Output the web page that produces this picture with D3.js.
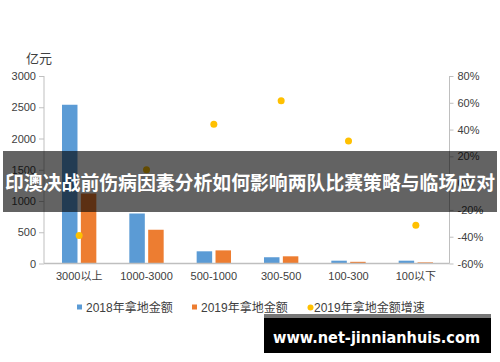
<!DOCTYPE html>
<html>
<head>
<meta charset="utf-8">
<script src="https://cdn.jsdelivr.net/npm/d3@7"></script>
<style>
  body { margin: 0; background: #fff; }
  svg { display: block; }
</style>
</head>
<body>
<div id="chart"></div>
<script>
// Data
const categories = ["3000以上", "1000-3000", "500-1000", "300-500", "100-300", "100以下"];
const amount2018 = [2540, 800, 195, 100, 45, 45];
const amount2019 = [1120, 540, 210, 115, 27, 18];
const growth2019 = [-39, 10, 44, 61.5, 31.5, -31.5];
const leftTicks = [0, 500, 1000, 1500, 2000, 2500, 3000];
const rightTicks = [-60, -40, -20, 0, 20, 40, 60, 80];
const seriesNames = ["2018年拿地金额", "2019年拿地金额", "2019年拿地金额增速"];
const bannerText = "印澳决战前伤病因素分析如何影响两队比赛策略与临场应对";
const watermarkText = "www.net-jinnianhuis.com";

const colors = ["#5b9bd5", "#ed7d31", "#ffc000"];
const W = 500, H = 362;
const numFont = "'Liberation Sans', Arial, sans-serif";
const cjkFont = "'Liberation Sans', 'Noto Sans CJK SC', sans-serif";

const svg = d3.select("#chart").append("svg")
    .attr("width", W)
    .attr("height", H);

// Scales
const x = d3.scaleBand().domain(categories).range([45.5, 449.5]);
const yLeft = d3.scaleLinear().domain([0, 3000]).range([263.5, 76]);
const yRight = d3.scaleLinear().domain([-60, 80]).range([263.5, 76]);

const bw = x.bandwidth();
const barW = bw * 0.23;
const gap = bw * 0.05;

// Left axis
const leftAxis = svg.append("g")
    .attr("transform", "translate(44,0)")
    .call(d3.axisLeft(yLeft).tickValues(leftTicks).tickSize(5).tickPadding(3)
        .tickFormat(d3.format("d")));
leftAxis.selectAll("text")
    .style("font-family", numFont)
    .style("font-size", "11px")
    .style("fill", "#404040");

// Right axis
const rightAxis = svg.append("g")
    .attr("transform", "translate(449.5,0)")
    .call(d3.axisRight(yRight).tickValues(rightTicks).tickSize(4).tickPadding(4)
        .tickFormat(d => d + "%"));
rightAxis.selectAll("text")
    .style("font-family", numFont)
    .style("font-size", "11px")
    .style("fill", "#404040");

svg.selectAll(".domain").attr("stroke", "#bfbfbf").attr("stroke-width", 1);
svg.selectAll(".tick line").attr("stroke", "#bfbfbf");
// axis lines without end caps
leftAxis.select(".domain").attr("d", `M0,${yLeft(3000)}V${yLeft(0)}`);
rightAxis.select(".domain").attr("d", `M0,${yRight(80)}V${yRight(-60)}`);

// Unit label
svg.append("text")
    .attr("x", 26)
    .attr("y", 63)
    .style("font-family", "'Noto Sans CJK SC', sans-serif")
    .style("font-size", "13px")
    .style("fill", "#404040")
    .text("亿元");

// Bars
svg.append("g").selectAll("rect")
    .data(amount2018)
    .join("rect")
    .attr("x", (d, i) => x(categories[i]) + bw / 2 - gap / 2 - barW)
    .attr("y", d => yLeft(d))
    .attr("width", barW)
    .attr("height", d => yLeft(0) - yLeft(d))
    .attr("fill", colors[0]);

svg.append("g").selectAll("rect")
    .data(amount2019)
    .join("rect")
    .attr("x", (d, i) => x(categories[i]) + bw / 2 + gap / 2)
    .attr("y", d => yLeft(d))
    .attr("width", barW)
    .attr("height", d => yLeft(0) - yLeft(d))
    .attr("fill", colors[1]);

// Category axis
const xAxis = svg.append("g")
    .attr("transform", `translate(0,${yLeft(0)})`)
    .call(d3.axisBottom(x).tickSize(0).tickPadding(9));
xAxis.select(".domain")
    .attr("d", `M44,0H449.5`)
    .attr("stroke", "#bfbfbf")
    .attr("stroke-width", 1.5);
xAxis.selectAll("text")
    .style("font-family", cjkFont)
    .style("font-size", "11px")
    .style("fill", "#404040");

// Growth dots
svg.append("g").selectAll("circle")
    .data(growth2019)
    .join("circle")
    .attr("cx", (d, i) => x(categories[i]) + bw / 2)
    .attr("cy", d => yRight(d))
    .attr("r", 3.5)
    .attr("fill", colors[2]);

// Legend
const legendX = [77, 192, 308];
const legend = svg.append("g");
seriesNames.forEach((name, i) => {
    if (i < 2) {
        legend.append("rect")
            .attr("x", legendX[i])
            .attr("y", 304.5)
            .attr("width", 5)
            .attr("height", 5)
            .attr("fill", colors[i]);
    } else {
        legend.append("circle")
            .attr("cx", legendX[i] + 2.5)
            .attr("cy", 307.5)
            .attr("r", 3)
            .attr("fill", colors[i]);
    }
    legend.append("text")
        .attr("x", legendX[i] + (i < 2 ? 9 : 6))
        .attr("y", 312)
        .style("font-family", cjkFont)
        .style("font-size", "12px")
        .style("fill", "#404040")
        .text(name);
});

// Banner overlay
svg.append("rect")
    .attr("x", 3)
    .attr("y", 151)
    .attr("width", 494)
    .attr("height", 61)
    .attr("fill", "#000")
    .attr("fill-opacity", 0.61);
svg.append("text")
    .attr("x", 250)
    .attr("y", 190)
    .attr("text-anchor", "middle")
    .attr("textLength", 490)
    .attr("lengthAdjust", "spacingAndGlyphs")
    .style("font-family", "'Noto Sans CJK SC', sans-serif")
    .style("font-weight", "bold")
    .style("font-size", "19px")
    .style("fill", "#fff")
    .text(bannerText);

// Watermark box
svg.append("rect")
    .attr("x", 264)
    .attr("y", 314)
    .attr("width", 227)
    .attr("height", 39)
    .attr("fill", "#000");
svg.append("rect")
    .attr("x", 264)
    .attr("y", 314)
    .attr("width", 227)
    .attr("height", 4)
    .attr("fill", "#777");
svg.append("text")
    .attr("x", 273)
    .attr("y", 343)
    .attr("textLength", 207)
    .attr("lengthAdjust", "spacingAndGlyphs")
    .style("font-family", "'DejaVu Sans', sans-serif")
    .style("font-weight", "bold")
    .style("font-size", "16px")
    .style("fill", "#fff")
    .text(watermarkText);
</script>
</body>
</html>
